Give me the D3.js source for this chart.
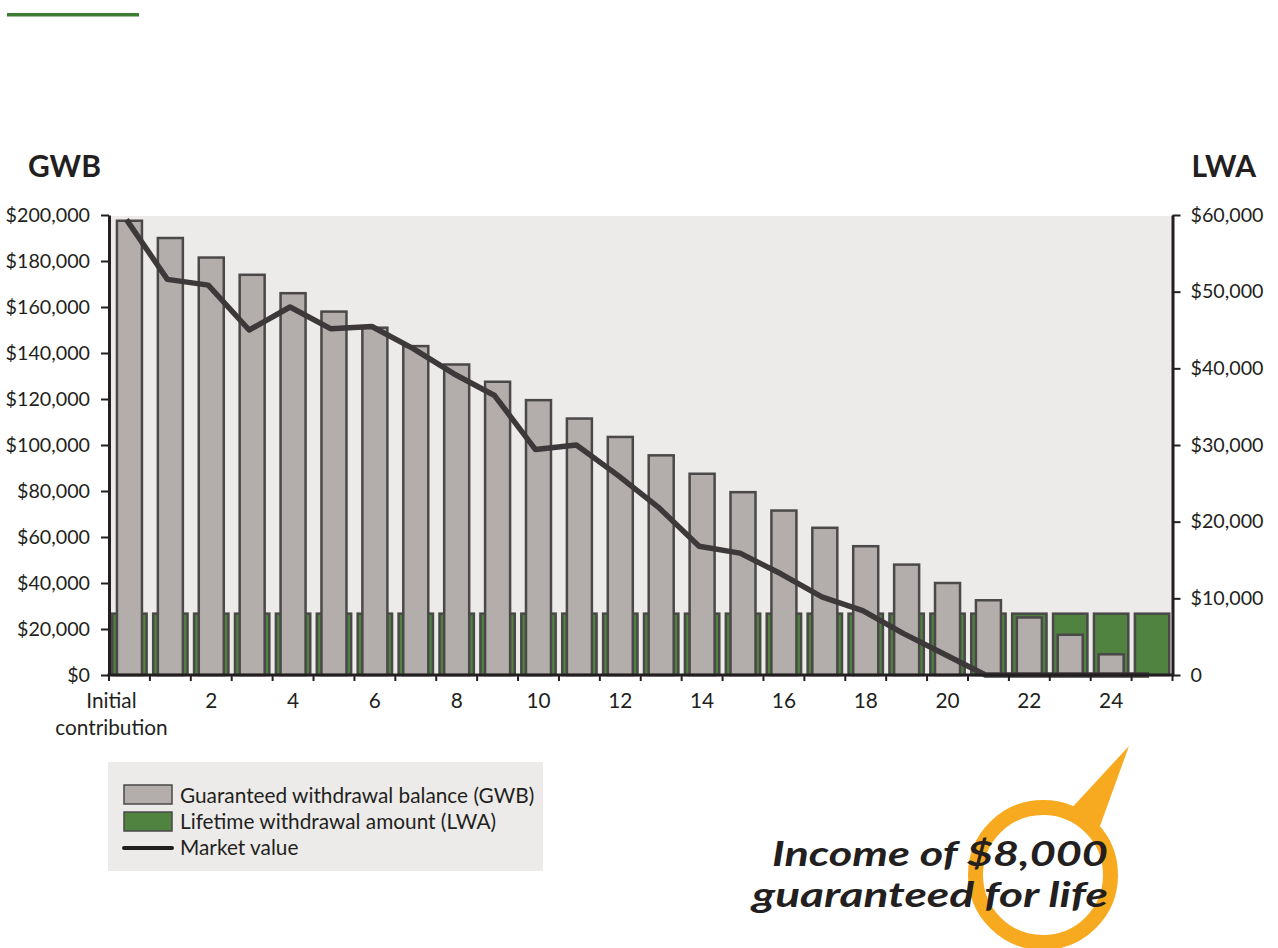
<!DOCTYPE html>
<html>
<head>
<meta charset="utf-8">
<script src="https://cdn.jsdelivr.net/npm/d3@7"></script>
<style>
  body { margin: 0; background: #ffffff; }
  svg text { font-family: Lato, "Open Sans", sans-serif; fill: #231f20; }
</style>
</head>
<body>
<svg id="chart" width="1278" height="948"></svg>
<script>
// Years of the contract, starting with the initial contribution
const categories = ["Initial contribution", "1", "2", "3", "4", "5", "6", "7", "8", "9", "10",
  "11", "12", "13", "14", "15", "16", "17", "18", "19", "20", "21", "22", "23", "24", "25"];

// Guaranteed withdrawal balance (left axis, $)
const gwbValues = [197500, 190000, 181500, 174000, 166000, 158000, 151000, 143000, 135000, 127500,
  119500, 111500, 103500, 95500, 87500, 79500, 71500, 64000, 56000, 48000,
  40000, 32500, 25000, 17500, 9000, 0];

// Lifetime withdrawal amount (right axis, $)
const lwaValues = [8000, 8000, 8000, 8000, 8000, 8000, 8000, 8000, 8000, 8000,
  8000, 8000, 8000, 8000, 8000, 8000, 8000, 8000, 8000, 8000,
  8000, 8000, 8000, 8000, 8000, 8000];

// Market value (left axis, $)
const marketValues = [198000, 172000, 169500, 150000, 160000, 150500, 151500, 142000, 131000, 121500,
  98000, 100000, 87000, 73000, 56000, 53000, 44000, 34000, 28000, 18000,
  9000, 0, 0, 0, 0, 0];

// Axis ticks and labels
const leftTicks = [0, 20000, 40000, 60000, 80000, 100000, 120000, 140000, 160000, 180000, 200000];
const rightTicks = [0, 10000, 20000, 30000, 40000, 50000, 60000];
const xLabelCategories = ["Initial contribution", "2", "4", "6", "8", "10", "12", "14", "16", "18", "20", "22", "24"];
const legendLabels = ["Guaranteed withdrawal balance (GWB)", "Lifetime withdrawal amount (LWA)", "Market value"];
const calloutLines = ["Income of $8,000", "guaranteed for life"];

const svg = d3.select("#chart");
const C = {
  ink: "#231f20", plotBg: "#ecebe9", grey: "#b3aeab", green: "#508340",
  barStroke: "#4a4848", line: "#3d393a", orange: "#f7aa1f", accent: "#3c7d33"
};
const P = { left: 109, right: 1172.5, top: 215, bottom: 675 };

const x = d3.scaleBand().domain(categories).range([P.left, P.right])
  .paddingInner(0.16).paddingOuter(0.08);
const yL = d3.scaleLinear().domain([0, 200000]).range([P.bottom, P.top]);
const yR = d3.scaleLinear().domain([0, 60000]).range([P.bottom, P.top]);
const bw = x.bandwidth();
const greyW = 25;

// Accent rule at the top left
svg.append("rect").attr("x", 7).attr("y", 13).attr("width", 132).attr("height", 3.5).attr("fill", C.accent);

// Axis titles
svg.append("text").attr("x", 28).attr("y", 177).attr("font-size", 30).attr("font-weight", 700).text("GWB");
svg.append("text").attr("x", 1256).attr("y", 177).attr("text-anchor", "end")
  .attr("font-size", 30).attr("font-weight", 700).text("LWA");

// Plot background
svg.append("rect").attr("x", P.left).attr("y", P.top + 1)
  .attr("width", P.right - P.left).attr("height", P.bottom - P.top - 1).attr("fill", C.plotBg);

// LWA bars (behind)
svg.append("g").selectAll("rect").data(categories).join("rect")
  .attr("x", d => x(d))
  .attr("y", (d, i) => yR(lwaValues[i]))
  .attr("width", bw)
  .attr("height", (d, i) => P.bottom - yR(lwaValues[i]))
  .attr("fill", C.green).attr("stroke", C.barStroke).attr("stroke-width", 2.5);

// GWB bars (front)
svg.append("g").selectAll("rect").data(categories.filter((d, i) => gwbValues[i] > 0)).join("rect")
  .attr("x", d => x(d) + (bw - greyW) / 2)
  .attr("y", d => yL(gwbValues[categories.indexOf(d)]))
  .attr("width", greyW)
  .attr("height", d => P.bottom - yL(gwbValues[categories.indexOf(d)]))
  .attr("fill", C.grey).attr("stroke", C.barStroke).attr("stroke-width", 2.5);

// Market value line
const line = d3.line()
  .x((v, i) => x(categories[i]) + bw / 2 - 3)
  .y(v => yL(v));
svg.append("path").datum(marketValues).attr("d", line)
  .attr("fill", "none").attr("stroke", C.line).attr("stroke-width", 5.5)
  .attr("stroke-linejoin", "round").attr("stroke-linecap", "butt");

// Left axis
const money = d3.format(",");
const gL = svg.append("g").attr("transform", `translate(${P.left},0)`)
  .call(d3.axisLeft(yL).tickValues(leftTicks).tickFormat(d => "$" + money(d))
    .tickSize(8).tickSizeOuter(0).tickPadding(11));
// Right axis
const gR = svg.append("g").attr("transform", `translate(${P.right},0)`)
  .call(d3.axisRight(yR).tickValues(rightTicks).tickFormat(d => d === 0 ? "0" : "$" + money(d))
    .tickSize(8).tickSizeOuter(0).tickPadding(10));
[gL, gR].forEach(g => {
  g.select(".domain").attr("stroke", C.ink).attr("stroke-width", 3);
  g.selectAll(".tick line").attr("stroke", C.ink).attr("stroke-width", 2);
  g.selectAll(".tick text").attr("font-size", 19.7).attr("font-family", null).attr("fill", C.ink);
});

// Bottom axis: baseline, ticks at band boundaries, labels under every other year
const gB = svg.append("g");
gB.append("line").attr("x1", P.left - 1.5).attr("x2", P.right + 1.5)
  .attr("y1", P.bottom).attr("y2", P.bottom).attr("stroke", C.ink).attr("stroke-width", 3);
const gap = x.step() - bw;
const boundaries = categories.map(d => x(d) - gap / 2).concat([P.right]);
gB.selectAll("line.tick").data(boundaries).join("line").attr("class", "tick")
  .attr("x1", d => d).attr("x2", d => d)
  .attr("y1", P.bottom).attr("y2", P.bottom + 6)
  .attr("stroke", C.ink).attr("stroke-width", 2);
const xl = gB.selectAll("text").data(xLabelCategories).join("text")
  .attr("text-anchor", "middle").attr("font-size", 20.8)
  .attr("x", d => x(d) + bw / 2 - (d === categories[0] ? 18 : 0))
  .attr("y", 708);
xl.each(function (d) {
  const t = d3.select(this);
  d.split(" ").forEach((w, i) => {
    t.append("tspan").attr("x", t.attr("x")).attr("dy", i === 0 ? 0 : 27).text(w);
  });
});

// Legend
const lg = svg.append("g");
lg.append("rect").attr("x", 108).attr("y", 762).attr("width", 435).attr("height", 109).attr("fill", C.plotBg);
lg.append("rect").attr("x", 124).attr("y", 785).attr("width", 48).attr("height", 19)
  .attr("fill", C.grey).attr("stroke", C.barStroke).attr("stroke-width", 1.5);
lg.append("rect").attr("x", 124).attr("y", 812).attr("width", 48).attr("height", 19)
  .attr("fill", C.green).attr("stroke", C.barStroke).attr("stroke-width", 1.5);
lg.append("line").attr("x1", 124).attr("x2", 172).attr("y1", 848).attr("y2", 848)
  .attr("stroke", C.ink).attr("stroke-width", 4).attr("stroke-linecap", "round");
lg.selectAll("text").data(legendLabels).join("text")
  .attr("x", 180).attr("y", (d, i) => [803, 829, 855][i]).attr("font-size", 20.8).text(d => d);

// Callout
const co = svg.append("g");
co.append("polygon").attr("points", "1068,812 1129,746 1100,826").attr("fill", C.orange);
co.append("circle").attr("cx", 1043).attr("cy", 875).attr("r", 67.5)
  .attr("fill", "none").attr("stroke", C.orange).attr("stroke-width", 15);
co.selectAll("text").data(calloutLines).join("text")
  .attr("x", 1108).attr("y", (d, i) => [866, 907][i])
  .attr("text-anchor", "end")
  .attr("font-family", "Roboto, sans-serif").attr("font-weight", 700).attr("font-style", "italic")
  .attr("font-size", 35)
  .attr("textLength", (d, i) => [336, 356][i]).attr("lengthAdjust", "spacingAndGlyphs")
  .text(d => d);
</script>
</body>
</html>
